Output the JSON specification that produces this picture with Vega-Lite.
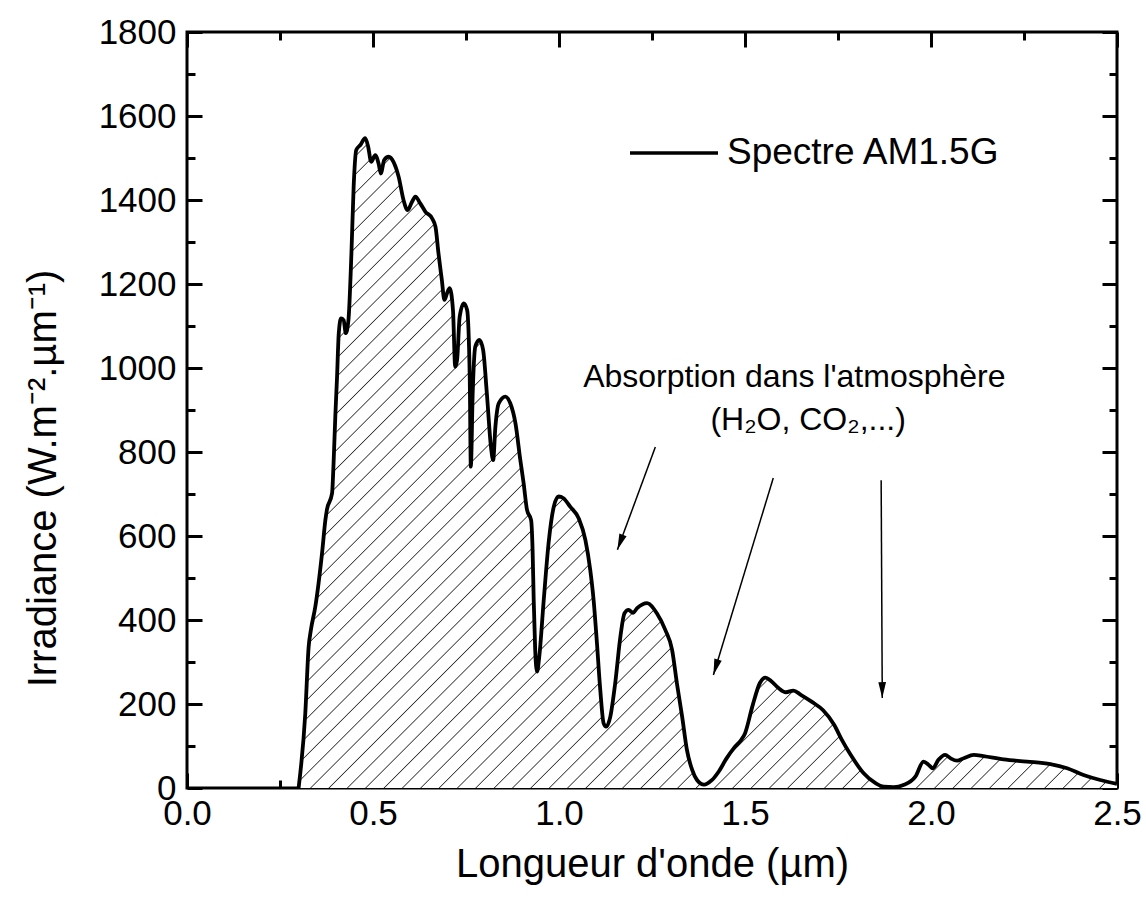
{
  "$schema": "https://vega.github.io/schema/vega-lite/v6.json",
  "width": 930,
  "height": 756,
  "autosize": "none",
  "padding": {"left": 187, "top": 32, "right": 29, "bottom": 121},
  "background": "white",
  "config": {
    "font": "Liberation Sans",
    "view": {"stroke": "#000", "strokeWidth": 3},
    "axis": {"grid": false, "domain": false, "tickColor": "#000", "tickWidth": 3, "labelColor": "#000", "labelFont": "Liberation Sans", "labelFontSize": 35, "titleFont": "Liberation Sans", "titleFontSize": 40, "titleFontWeight": "normal", "titleColor": "#000", "labelFlush": false, "labelOverlap": false}
  },
  "datasets": {
    "spectrum": [
      {"wavelength":0.300,"irradiance":0},{"wavelength":0.318,"irradiance":178},{"wavelength":0.327,"irradiance":336},{"wavelength":0.333,"irradiance":376},{"wavelength":0.345,"irradiance":432},{"wavelength":0.363,"irradiance":559},{"wavelength":0.372,"irradiance":638},{"wavelength":0.376,"irradiance":662},{"wavelength":0.390,"irradiance":702},{"wavelength":0.394,"irradiance":773},{"wavelength":0.399,"irradiance":892},{"wavelength":0.403,"irradiance":971},{"wavelength":0.408,"irradiance":1083},{"wavelength":0.414,"irradiance":1118},{"wavelength":0.421,"irradiance":1114},{"wavelength":0.427,"irradiance":1083},{"wavelength":0.434,"irradiance":1114},{"wavelength":0.442,"irradiance":1273},{"wavelength":0.448,"irradiance":1432},{"wavelength":0.455,"irradiance":1519},{"wavelength":0.466,"irradiance":1531},{"wavelength":0.479,"irradiance":1547},{"wavelength":0.487,"irradiance":1527},{"wavelength":0.495,"irradiance":1491},{"wavelength":0.506,"irradiance":1507},{"wavelength":0.515,"irradiance":1487},{"wavelength":0.521,"irradiance":1463},{"wavelength":0.530,"irradiance":1495},{"wavelength":0.542,"irradiance":1503},{"wavelength":0.555,"irradiance":1491},{"wavelength":0.569,"irradiance":1455},{"wavelength":0.582,"irradiance":1400},{"wavelength":0.593,"irradiance":1376},{"wavelength":0.605,"irradiance":1396},{"wavelength":0.614,"irradiance":1408},{"wavelength":0.627,"irradiance":1392},{"wavelength":0.641,"irradiance":1372},{"wavelength":0.659,"irradiance":1356},{"wavelength":0.668,"irradiance":1336},{"wavelength":0.676,"irradiance":1273},{"wavelength":0.685,"irradiance":1210},{"wavelength":0.692,"irradiance":1162},{"wavelength":0.699,"irradiance":1178},{"wavelength":0.706,"irradiance":1190},{"wavelength":0.715,"irradiance":1138},{"wavelength":0.721,"irradiance":1003},{"wavelength":0.726,"irradiance":1019},{"wavelength":0.733,"irradiance":1122},{"wavelength":0.744,"irradiance":1154},{"wavelength":0.753,"irradiance":1138},{"wavelength":0.760,"irradiance":979},{"wavelength":0.763,"irradiance":765},{"wavelength":0.768,"irradiance":940},{"wavelength":0.775,"irradiance":1051},{"wavelength":0.786,"irradiance":1067},{"wavelength":0.796,"irradiance":1043},{"wavelength":0.806,"irradiance":940},{"wavelength":0.817,"irradiance":813},{"wavelength":0.823,"irradiance":781},{"wavelength":0.829,"irradiance":860},{"wavelength":0.838,"irradiance":916},{"wavelength":0.856,"irradiance":932},{"wavelength":0.869,"irradiance":916},{"wavelength":0.883,"irradiance":868},{"wavelength":0.896,"irradiance":781},{"wavelength":0.905,"irradiance":725},{"wavelength":0.914,"irradiance":662},{"wavelength":0.925,"irradiance":638},{"wavelength":0.929,"irradiance":567},{"wavelength":0.932,"irradiance":448},{"wavelength":0.936,"irradiance":329},{"wavelength":0.941,"irradiance":277},{"wavelength":0.947,"irradiance":313},{"wavelength":0.959,"irradiance":448},{"wavelength":0.972,"irradiance":583},{"wavelength":0.986,"irradiance":670},{"wavelength":0.999,"irradiance":694},{"wavelength":1.012,"irradiance":690},{"wavelength":1.030,"irradiance":670},{"wavelength":1.053,"irradiance":642},{"wavelength":1.071,"irradiance":590},{"wavelength":1.084,"irradiance":519},{"wavelength":1.093,"irradiance":448},{"wavelength":1.102,"irradiance":345},{"wavelength":1.111,"irradiance":233},{"wavelength":1.120,"irradiance":154},{"wavelength":1.127,"irradiance":146},{"wavelength":1.138,"irradiance":170},{"wavelength":1.151,"irradiance":249},{"wavelength":1.165,"irradiance":360},{"wavelength":1.176,"irradiance":416},{"wavelength":1.187,"irradiance":424},{"wavelength":1.199,"irradiance":417},{"wavelength":1.210,"irradiance":428},{"wavelength":1.237,"irradiance":440},{"wavelength":1.263,"irradiance":416},{"wavelength":1.286,"irradiance":376},{"wavelength":1.304,"irradiance":329},{"wavelength":1.317,"irradiance":249},{"wavelength":1.331,"irradiance":170},{"wavelength":1.344,"irradiance":90},{"wavelength":1.358,"irradiance":43},{"wavelength":1.371,"irradiance":19},{"wavelength":1.390,"irradiance":8},{"wavelength":1.410,"irradiance":18},{"wavelength":1.430,"irradiance":40},{"wavelength":1.450,"irradiance":70},{"wavelength":1.470,"irradiance":95},{"wavelength":1.490,"irradiance":115},{"wavelength":1.500,"irradiance":130},{"wavelength":1.520,"irradiance":195},{"wavelength":1.540,"irradiance":250},{"wavelength":1.555,"irradiance":263},{"wavelength":1.570,"irradiance":255},{"wavelength":1.590,"irradiance":238},{"wavelength":1.610,"irradiance":228},{"wavelength":1.630,"irradiance":232},{"wavelength":1.650,"irradiance":222},{"wavelength":1.680,"irradiance":205},{"wavelength":1.710,"irradiance":185},{"wavelength":1.740,"irradiance":150},{"wavelength":1.760,"irradiance":115},{"wavelength":1.784,"irradiance":79},{"wavelength":1.819,"irradiance":35},{"wavelength":1.850,"irradiance":12},{"wavelength":1.873,"irradiance":3},{"wavelength":1.900,"irradiance":2},{"wavelength":1.926,"irradiance":7},{"wavelength":1.958,"irradiance":27},{"wavelength":1.980,"irradiance":63},{"wavelength":1.994,"irradiance":55},{"wavelength":2.005,"irradiance":47},{"wavelength":2.020,"irradiance":67},{"wavelength":2.038,"irradiance":79},{"wavelength":2.052,"irradiance":71},{"wavelength":2.070,"irradiance":65},{"wavelength":2.088,"irradiance":71},{"wavelength":2.115,"irradiance":79},{"wavelength":2.141,"irradiance":76},{"wavelength":2.195,"irradiance":68},{"wavelength":2.258,"irradiance":63},{"wavelength":2.321,"irradiance":57},{"wavelength":2.366,"irradiance":47},{"wavelength":2.410,"irradiance":31},{"wavelength":2.455,"irradiance":19},{"wavelength":2.500,"irradiance":10}
    ],
    "arrows": [
      {"xs": 1.259, "ys": 812, "xe": 1.157, "ye": 567},
      {"xs": 1.576, "ys": 738, "xe": 1.415, "ye": 269},
      {"xs": 1.866, "ys": 733, "xe": 1.869, "ye": 214}
    ],
    "notes": [
      {"x": 1.065, "y": 955, "label": "Absorption dans l'atmosphère"},
      {"x": 1.407, "y": 852, "label": "(H₂O, CO₂,...)"}
    ]
  },
  "resolve": {"axis": {"x": "independent", "y": "independent"}},
  "layer": [
    {
      "data": {"name": "spectrum"},
      "mark": {"type": "area", "interpolate": "monotone", "fill": {"gradient": "linear", "x1": 0, "y1": 0, "x2": 1.1003, "y2": 0.8739, "stops": [
        {"offset":0,"color":"#fff"},{"offset":0.0008,"color":"#333"},{"offset":0.0016,"color":"#fff"},{"offset":0.0125,"color":"#fff"},{"offset":0.0133,"color":"#333"},{"offset":0.0141,"color":"#fff"},{"offset":0.025,"color":"#fff"},{"offset":0.0258,"color":"#333"},{"offset":0.0266,"color":"#fff"},{"offset":0.0375,"color":"#fff"},{"offset":0.0383,"color":"#333"},{"offset":0.0391,"color":"#fff"},{"offset":0.05,"color":"#fff"},{"offset":0.0508,"color":"#333"},{"offset":0.0516,"color":"#fff"},{"offset":0.0625,"color":"#fff"},{"offset":0.0633,"color":"#333"},{"offset":0.0641,"color":"#fff"},{"offset":0.075,"color":"#fff"},{"offset":0.0758,"color":"#333"},{"offset":0.0766,"color":"#fff"},{"offset":0.0875,"color":"#fff"},{"offset":0.0883,"color":"#333"},{"offset":0.0891,"color":"#fff"},
        {"offset":0.1,"color":"#fff"},{"offset":0.1008,"color":"#333"},{"offset":0.1016,"color":"#fff"},{"offset":0.1125,"color":"#fff"},{"offset":0.1133,"color":"#333"},{"offset":0.1141,"color":"#fff"},{"offset":0.125,"color":"#fff"},{"offset":0.1258,"color":"#333"},{"offset":0.1266,"color":"#fff"},{"offset":0.1375,"color":"#fff"},{"offset":0.1383,"color":"#333"},{"offset":0.1391,"color":"#fff"},{"offset":0.15,"color":"#fff"},{"offset":0.1508,"color":"#333"},{"offset":0.1516,"color":"#fff"},{"offset":0.1625,"color":"#fff"},{"offset":0.1633,"color":"#333"},{"offset":0.1641,"color":"#fff"},{"offset":0.175,"color":"#fff"},{"offset":0.1758,"color":"#333"},{"offset":0.1766,"color":"#fff"},{"offset":0.1875,"color":"#fff"},{"offset":0.1883,"color":"#333"},{"offset":0.1891,"color":"#fff"},
        {"offset":0.2,"color":"#fff"},{"offset":0.2008,"color":"#333"},{"offset":0.2016,"color":"#fff"},{"offset":0.2125,"color":"#fff"},{"offset":0.2133,"color":"#333"},{"offset":0.2141,"color":"#fff"},{"offset":0.225,"color":"#fff"},{"offset":0.2258,"color":"#333"},{"offset":0.2266,"color":"#fff"},{"offset":0.2375,"color":"#fff"},{"offset":0.2383,"color":"#333"},{"offset":0.2391,"color":"#fff"},{"offset":0.25,"color":"#fff"},{"offset":0.2508,"color":"#333"},{"offset":0.2516,"color":"#fff"},{"offset":0.2625,"color":"#fff"},{"offset":0.2633,"color":"#333"},{"offset":0.2641,"color":"#fff"},{"offset":0.275,"color":"#fff"},{"offset":0.2758,"color":"#333"},{"offset":0.2766,"color":"#fff"},{"offset":0.2875,"color":"#fff"},{"offset":0.2883,"color":"#333"},{"offset":0.2891,"color":"#fff"},
        {"offset":0.3,"color":"#fff"},{"offset":0.3008,"color":"#333"},{"offset":0.3016,"color":"#fff"},{"offset":0.3125,"color":"#fff"},{"offset":0.3133,"color":"#333"},{"offset":0.3141,"color":"#fff"},{"offset":0.325,"color":"#fff"},{"offset":0.3258,"color":"#333"},{"offset":0.3266,"color":"#fff"},{"offset":0.3375,"color":"#fff"},{"offset":0.3383,"color":"#333"},{"offset":0.3391,"color":"#fff"},{"offset":0.35,"color":"#fff"},{"offset":0.3508,"color":"#333"},{"offset":0.3516,"color":"#fff"},{"offset":0.3625,"color":"#fff"},{"offset":0.3633,"color":"#333"},{"offset":0.3641,"color":"#fff"},{"offset":0.375,"color":"#fff"},{"offset":0.3758,"color":"#333"},{"offset":0.3766,"color":"#fff"},{"offset":0.3875,"color":"#fff"},{"offset":0.3883,"color":"#333"},{"offset":0.3891,"color":"#fff"},
        {"offset":0.4,"color":"#fff"},{"offset":0.4008,"color":"#333"},{"offset":0.4016,"color":"#fff"},{"offset":0.4125,"color":"#fff"},{"offset":0.4133,"color":"#333"},{"offset":0.4141,"color":"#fff"},{"offset":0.425,"color":"#fff"},{"offset":0.4258,"color":"#333"},{"offset":0.4266,"color":"#fff"},{"offset":0.4375,"color":"#fff"},{"offset":0.4383,"color":"#333"},{"offset":0.4391,"color":"#fff"},{"offset":0.45,"color":"#fff"},{"offset":0.4508,"color":"#333"},{"offset":0.4516,"color":"#fff"},{"offset":0.4625,"color":"#fff"},{"offset":0.4633,"color":"#333"},{"offset":0.4641,"color":"#fff"},{"offset":0.475,"color":"#fff"},{"offset":0.4758,"color":"#333"},{"offset":0.4766,"color":"#fff"},{"offset":0.4875,"color":"#fff"},{"offset":0.4883,"color":"#333"},{"offset":0.4891,"color":"#fff"},
        {"offset":0.5,"color":"#fff"},{"offset":0.5008,"color":"#333"},{"offset":0.5016,"color":"#fff"},{"offset":0.5125,"color":"#fff"},{"offset":0.5133,"color":"#333"},{"offset":0.5141,"color":"#fff"},{"offset":0.525,"color":"#fff"},{"offset":0.5258,"color":"#333"},{"offset":0.5266,"color":"#fff"},{"offset":0.5375,"color":"#fff"},{"offset":0.5383,"color":"#333"},{"offset":0.5391,"color":"#fff"},{"offset":0.55,"color":"#fff"},{"offset":0.5508,"color":"#333"},{"offset":0.5516,"color":"#fff"},{"offset":0.5625,"color":"#fff"},{"offset":0.5633,"color":"#333"},{"offset":0.5641,"color":"#fff"},{"offset":0.575,"color":"#fff"},{"offset":0.5758,"color":"#333"},{"offset":0.5766,"color":"#fff"},{"offset":0.5875,"color":"#fff"},{"offset":0.5883,"color":"#333"},{"offset":0.5891,"color":"#fff"},
        {"offset":0.6,"color":"#fff"},{"offset":0.6008,"color":"#333"},{"offset":0.6016,"color":"#fff"},{"offset":0.6125,"color":"#fff"},{"offset":0.6133,"color":"#333"},{"offset":0.6141,"color":"#fff"},{"offset":0.625,"color":"#fff"},{"offset":0.6258,"color":"#333"},{"offset":0.6266,"color":"#fff"},{"offset":0.6375,"color":"#fff"},{"offset":0.6383,"color":"#333"},{"offset":0.6391,"color":"#fff"},{"offset":0.65,"color":"#fff"},{"offset":0.6508,"color":"#333"},{"offset":0.6516,"color":"#fff"},{"offset":0.6625,"color":"#fff"},{"offset":0.6633,"color":"#333"},{"offset":0.6641,"color":"#fff"},{"offset":0.675,"color":"#fff"},{"offset":0.6758,"color":"#333"},{"offset":0.6766,"color":"#fff"},{"offset":0.6875,"color":"#fff"},{"offset":0.6883,"color":"#333"},{"offset":0.6891,"color":"#fff"},
        {"offset":0.7,"color":"#fff"},{"offset":0.7008,"color":"#333"},{"offset":0.7016,"color":"#fff"},{"offset":0.7125,"color":"#fff"},{"offset":0.7133,"color":"#333"},{"offset":0.7141,"color":"#fff"},{"offset":0.725,"color":"#fff"},{"offset":0.7258,"color":"#333"},{"offset":0.7266,"color":"#fff"},{"offset":0.7375,"color":"#fff"},{"offset":0.7383,"color":"#333"},{"offset":0.7391,"color":"#fff"},{"offset":0.75,"color":"#fff"},{"offset":0.7508,"color":"#333"},{"offset":0.7516,"color":"#fff"},{"offset":0.7625,"color":"#fff"},{"offset":0.7633,"color":"#333"},{"offset":0.7641,"color":"#fff"},{"offset":0.775,"color":"#fff"},{"offset":0.7758,"color":"#333"},{"offset":0.7766,"color":"#fff"},{"offset":0.7875,"color":"#fff"},{"offset":0.7883,"color":"#333"},{"offset":0.7891,"color":"#fff"},
        {"offset":0.8,"color":"#fff"},{"offset":0.8008,"color":"#333"},{"offset":0.8016,"color":"#fff"},{"offset":0.8125,"color":"#fff"},{"offset":0.8133,"color":"#333"},{"offset":0.8141,"color":"#fff"},{"offset":0.825,"color":"#fff"},{"offset":0.8258,"color":"#333"},{"offset":0.8266,"color":"#fff"},{"offset":0.8375,"color":"#fff"},{"offset":0.8383,"color":"#333"},{"offset":0.8391,"color":"#fff"},{"offset":0.85,"color":"#fff"},{"offset":0.8508,"color":"#333"},{"offset":0.8516,"color":"#fff"},{"offset":0.8625,"color":"#fff"},{"offset":0.8633,"color":"#333"},{"offset":0.8641,"color":"#fff"},{"offset":0.875,"color":"#fff"},{"offset":0.8758,"color":"#333"},{"offset":0.8766,"color":"#fff"},{"offset":0.8875,"color":"#fff"},{"offset":0.8883,"color":"#333"},{"offset":0.8891,"color":"#fff"},
        {"offset":0.9,"color":"#fff"},{"offset":0.9008,"color":"#333"},{"offset":0.9016,"color":"#fff"},{"offset":0.9125,"color":"#fff"},{"offset":0.9133,"color":"#333"},{"offset":0.9141,"color":"#fff"},{"offset":0.925,"color":"#fff"},{"offset":0.9258,"color":"#333"},{"offset":0.9266,"color":"#fff"},{"offset":0.9375,"color":"#fff"},{"offset":0.9383,"color":"#333"},{"offset":0.9391,"color":"#fff"},{"offset":0.95,"color":"#fff"},{"offset":0.9508,"color":"#333"},{"offset":0.9516,"color":"#fff"},{"offset":0.9625,"color":"#fff"},{"offset":0.9633,"color":"#333"},{"offset":0.9641,"color":"#fff"},{"offset":0.975,"color":"#fff"},{"offset":0.9758,"color":"#333"},{"offset":0.9766,"color":"#fff"},{"offset":0.9875,"color":"#fff"},{"offset":0.9883,"color":"#333"},{"offset":0.9891,"color":"#fff"},{"offset":1,"color":"#fff"}
      ]}},
      "encoding": {
        "x": {"field": "wavelength", "type": "quantitative", "scale": {"domain": [0, 2.5], "nice": false, "zero": false},
              "axis": {"orient": "bottom", "values": [0, 0.5, 1, 1.5, 2, 2.5], "format": ".1f", "tickSize": -15, "labelPadding": 23, "title": "Longueur d'onde (µm)", "titleY": 88, "titleBaseline": "alphabetic"}},
        "y": {"field": "irradiance", "type": "quantitative", "scale": {"domain": [0, 1800], "nice": false},
              "axis": {"orient": "left", "values": [0, 200, 400, 600, 800, 1000, 1200, 1400, 1600, 1800], "format": "d", "tickSize": -15, "labelPadding": 26, "title": "Irradiance (W.m⁻².µm⁻¹)", "titleX": -132, "titleY": 446, "titleAngle": 270, "titleBaseline": "alphabetic"}}
      }
    },
    {
      "data": {"name": "spectrum"},
      "mark": {"type": "line", "interpolate": "monotone", "strokeWidth": 3.8, "strokeJoin": "round"},
      "encoding": {
        "x": {"field": "wavelength", "type": "quantitative", "scale": {"domain": [0, 2.5], "nice": false, "zero": false},
              "axis": {"orient": "top", "values": [0, 0.5, 1, 1.5, 2, 2.5], "tickSize": -15, "labels": false, "title": null}},
        "y": {"field": "irradiance", "type": "quantitative", "scale": {"domain": [0, 1800], "nice": false},
              "axis": {"orient": "right", "values": [0, 200, 400, 600, 800, 1000, 1200, 1400, 1600, 1800], "tickSize": -15, "labels": false, "title": null}},
        "stroke": {"datum": "Spectre AM1.5G", "type": "nominal", "scale": {"range": ["#000000"]},
                   "legend": {"title": null, "orient": "none", "legendX": 441, "legendY": 75, "symbolType": "stroke", "symbolSize": 7744, "symbolStrokeWidth": 3.5, "symbolStrokeColor": "#000", "labelFontSize": 37, "labelFont": "Liberation Sans", "labelColor": "#000", "labelOffset": 7, "labelLimit": 500, "padding": 0}}
      }
    },
    {
      "data": {"name": "arrows"},
      "mark": {"type": "rule", "strokeWidth": 1.5, "color": "#000"},
      "encoding": {
        "x": {"field": "xs", "type": "quantitative", "scale": {"domain": [0, 2.5], "nice": false, "zero": false},
              "axis": {"orient": "bottom", "values": [0.25, 0.75, 1.25, 1.75, 2.25], "tickSize": -8, "labels": false, "title": null}},
        "y": {"field": "ys", "type": "quantitative", "scale": {"domain": [0, 1800], "nice": false},
              "axis": {"orient": "left", "values": [100, 300, 500, 700, 900, 1100, 1300, 1500, 1700], "tickSize": -8, "labels": false, "title": null}},
        "x2": {"field": "xe"},
        "y2": {"field": "ye"}
      }
    },
    {
      "data": {"name": "arrows"},
      "transform": [{"calculate": "atan2((datum.xe - datum.xs) * 372, (datum.ye - datum.ys) * 0.42) * 180 / PI", "as": "ang"}],
      "mark": {"type": "point", "shape": "M0,0L-0.48,2L0.48,2Z", "filled": true, "size": 256, "color": "#000", "opacity": 1},
      "encoding": {
        "x": {"field": "xe", "type": "quantitative", "scale": {"domain": [0, 2.5], "nice": false, "zero": false},
              "axis": {"orient": "top", "values": [0.25, 0.75, 1.25, 1.75, 2.25], "tickSize": -8, "labels": false, "title": null}},
        "y": {"field": "ye", "type": "quantitative", "scale": {"domain": [0, 1800], "nice": false},
              "axis": {"orient": "right", "values": [100, 300, 500, 700, 900, 1100, 1300, 1500, 1700], "tickSize": -8, "labels": false, "title": null}},
        "angle": {"field": "ang", "type": "quantitative", "scale": null}
      }
    },
    {
      "data": {"name": "notes"},
      "mark": {"type": "text", "align": "left", "baseline": "alphabetic", "fontSize": 32, "font": "Liberation Sans", "color": "#000"},
      "encoding": {
        "x": {"field": "x", "type": "quantitative", "scale": {"domain": [0, 2.5], "nice": false, "zero": false}, "axis": null},
        "y": {"field": "y", "type": "quantitative", "scale": {"domain": [0, 1800], "nice": false}, "axis": null},
        "text": {"field": "label"}
      }
    }
  ]
}
